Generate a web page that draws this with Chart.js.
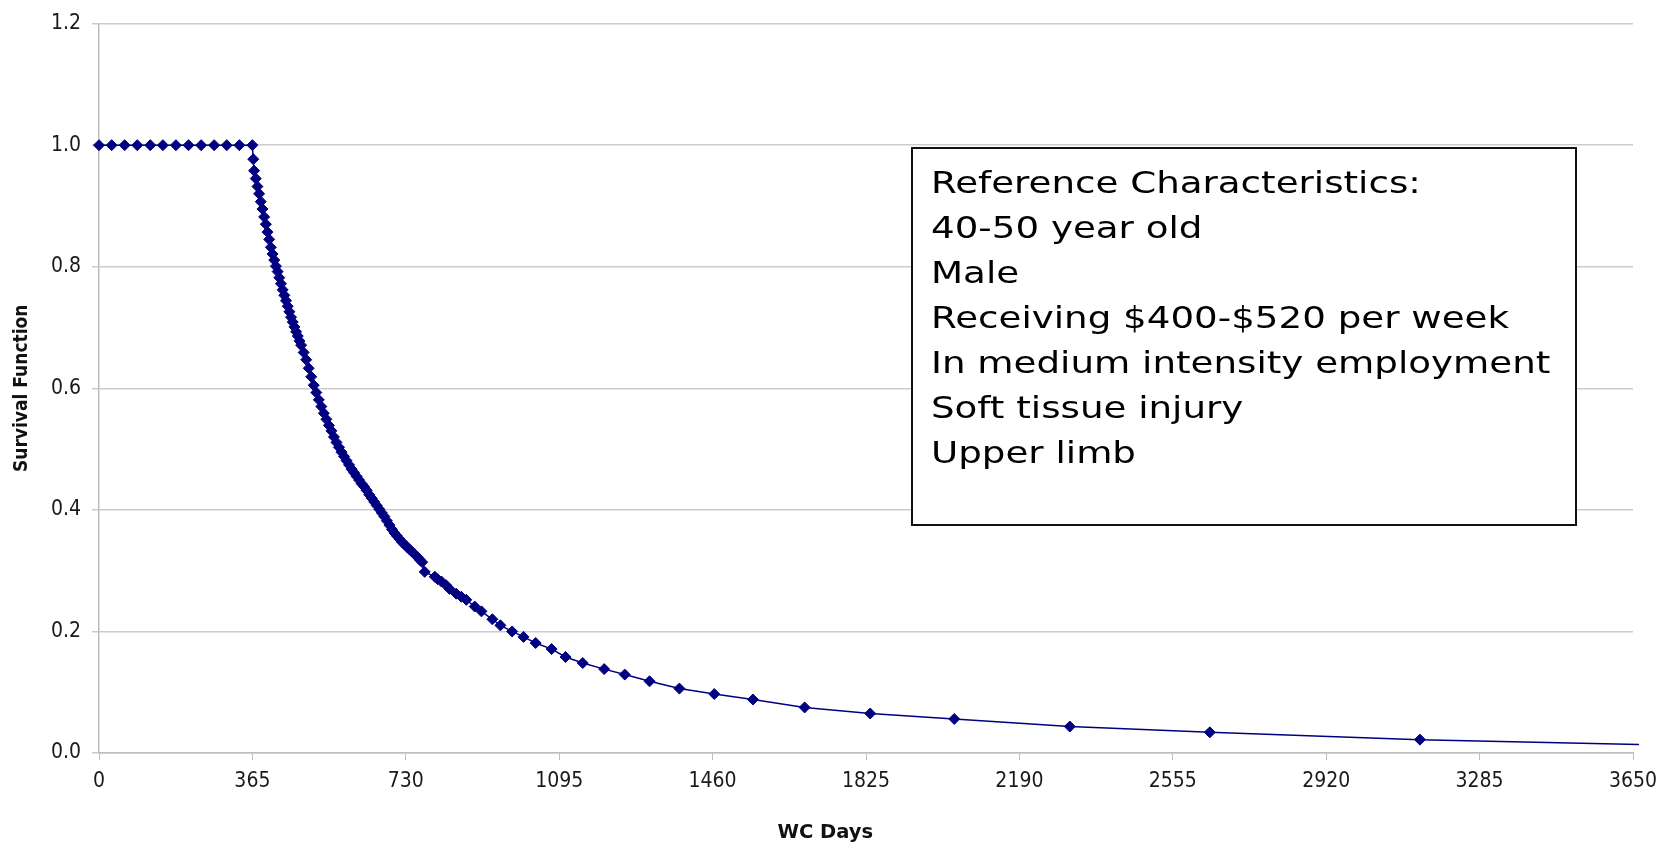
<!DOCTYPE html>
<html>
<head>
<meta charset="utf-8">
<title>Survival Function</title>
<script src="https://cdn.jsdelivr.net/npm/chart.js@4/dist/chart.umd.min.js"></script>
<style>
  html, body { margin: 0; padding: 0; background: #fff; }
  #wrap { position: relative; width: 1673px; height: 846px; }
  #note {
    position: absolute; left: 911px; top: 147px; width: 666px; height: 379px;
    box-sizing: border-box; border: 2px solid #111; background: #fff;
    padding: 11px 0 0 18px;
  }
  #note div {
    font-family: 'DejaVu Sans', Verdana, sans-serif; font-size: 30px; line-height: 45px;
    color: #000; white-space: nowrap; transform: scaleX(1.24); transform-origin: left center;
  }
</style>
</head>
<body>
<div id="wrap">
  <canvas id="survivalChart" width="1673" height="846"></canvas>
  <div id="note"></div>
</div>
<script>
// WC days (x) and survival function (y)
const days = [
  0, 30, 61, 91, 122, 152, 183, 213, 243, 274, 304, 334, 365,
  367, 369, 373, 377, 381, 385, 389, 393, 397, 401, 405, 409, 413, 417, 421, 425,
  429, 433, 437, 441, 445, 449, 453, 457, 461, 465, 469, 473, 477, 481,
  487, 493, 499, 505, 511, 517, 523, 529, 535, 541, 547, 553, 559, 565, 571,
  577, 583, 589, 595, 601, 607, 613, 619, 625, 631, 637, 643, 649, 655, 661,
  667, 673, 679, 685, 691, 697, 703, 709, 715, 721, 727, 733, 739, 745, 751,
  757, 763,
  769, 775,
  799, 806, 815, 826, 834, 850, 862, 874, 894, 910, 936, 955, 983, 1010, 1039,
  1077, 1110, 1151, 1202, 1251, 1310, 1381, 1464, 1556, 1679, 1835, 2035, 2310,
  2643, 3143, 3700,
];
const survival = [
  1, 1, 1, 1, 1, 1, 1, 1, 1, 1, 1, 1, 1,
  0.977, 0.958, 0.945, 0.932, 0.920, 0.907, 0.895, 0.882, 0.870, 0.857, 0.845, 0.832, 0.821, 0.811, 0.801, 0.792,
  0.782, 0.772, 0.762, 0.753, 0.744, 0.735, 0.726, 0.717, 0.709, 0.701, 0.693, 0.686, 0.678, 0.671,
  0.659, 0.647, 0.633, 0.619, 0.605, 0.593, 0.581, 0.570, 0.559, 0.549, 0.539, 0.530, 0.520, 0.511, 0.503,
  0.495, 0.488, 0.481, 0.474, 0.467, 0.461, 0.455, 0.449, 0.443, 0.438, 0.432, 0.425, 0.419, 0.413, 0.407,
  0.401, 0.395, 0.389, 0.382, 0.375, 0.368, 0.362, 0.357, 0.352, 0.347, 0.343, 0.339, 0.335, 0.331, 0.327,
  0.323, 0.318,
  0.314, 0.298,
  0.290, 0.286, 0.282, 0.276, 0.270, 0.262, 0.257, 0.252, 0.241, 0.233, 0.220, 0.210, 0.200, 0.191, 0.181,
  0.171, 0.158, 0.148, 0.138, 0.129, 0.118, 0.106, 0.097, 0.088, 0.075, 0.065, 0.056, 0.0435,
  0.034, 0.022, 0.0133,
];

const xMax = 3650;
const xStep = 365;
const yMax = 1.2;
const yStep = 0.2;

const noteLines = [
  'Reference Characteristics:',
  '40-50 year old',
  'Male',
  'Receiving $400-$520 per week',
  'In medium intensity employment',
  'Soft tissue injury',
  'Upper limb',
];

const note = document.getElementById('note');
noteLines.forEach((line) => {
  const el = document.createElement('div');
  el.textContent = line;
  note.appendChild(el);
});

const navy = '#000080';
const gridColor = '#cccccc';
const axisColor = '#bdbdbd';
const tickFont = { family: "'DejaVu Sans Condensed', 'Liberation Sans', sans-serif", size: 21 };

const ctx = document.getElementById('survivalChart').getContext('2d');

new Chart(ctx, {
  type: 'scatter',
  data: {
    datasets: [{
      label: 'Survival Function',
      data: days.map((d, i) => ({ x: d, y: survival[i] })),
      showLine: true,
      borderColor: navy,
      borderWidth: 1.5,
      backgroundColor: navy,
      pointStyle: 'rectRot',
      pointRadius: (c) => (c.raw && c.raw.x > xMax ? 0 : 5.5),
      pointBorderWidth: 1,
      pointBorderColor: navy,
      pointBackgroundColor: navy,
      clip: { left: 10, top: 10, right: 6, bottom: 10 },
    }],
  },
  options: {
    responsive: false,
    animation: false,
    events: [],
    layout: {
      padding: { top: 19.5, right: 40, bottom: 0, left: 0 },
    },
    plugins: {
      legend: { display: false },
      tooltip: { enabled: false },
    },
    scales: {
      x: {
        type: 'linear',
        min: 0,
        max: xMax,
        ticks: {
          stepSize: xStep,
          maxRotation: 0,
          autoSkip: false,
          color: '#1a1a1a',
          font: tickFont,
          padding: 9,
          callback: (v) => String(v),
        },
        grid: {
          drawOnChartArea: false,
          drawTicks: true,
          tickLength: 7,
          color: axisColor,
        },
        border: { color: axisColor, width: 1.5 },
        title: {
          display: true,
          text: 'WC Days            ',
          color: '#111',
          font: { family: "'DejaVu Sans', sans-serif", size: 19.5, weight: 'bold' },
          padding: { top: 0, bottom: 1 },
        },
        afterFit: (scale) => { scale.height = 93; },
      },
      y: {
        min: 0,
        max: yMax,
        ticks: {
          stepSize: yStep,
          color: '#1a1a1a',
          font: tickFont,
          padding: 11,
          callback: (v) => Number(v).toFixed(1),
        },
        grid: {
          color: gridColor,
          lineWidth: 1.5,
          drawTicks: true,
          tickLength: 7,
        },
        border: { color: axisColor, width: 1.5 },
        title: {
          display: true,
          text: 'Survival Function',
          color: '#111',
          font: { family: "'DejaVu Sans Condensed', 'Liberation Sans', sans-serif", size: 19, weight: 'bold' },
          padding: { top: 11, bottom: 0 },
        },
        afterFit: (scale) => { scale.width = 99; },
      },
    },
  },
});
</script>
</body>
</html>
